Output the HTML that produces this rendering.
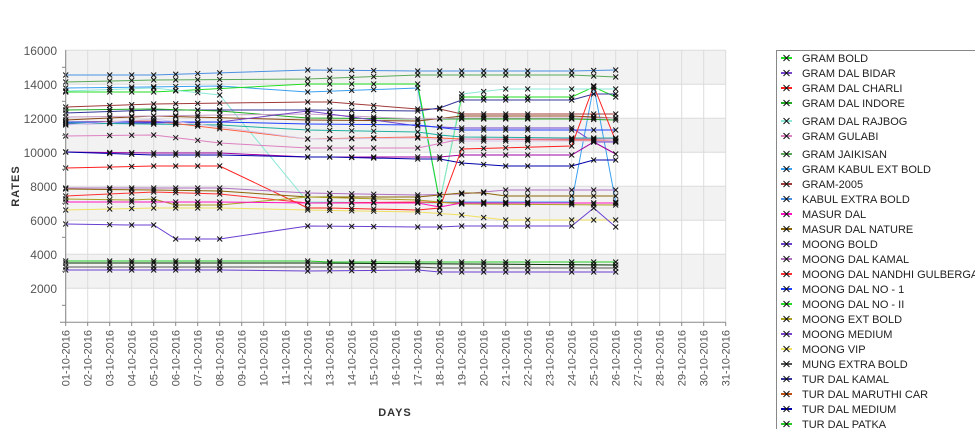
<!DOCTYPE html>
<html><head><meta charset="utf-8"><style>
body{margin:0;background:#fff;width:975px;height:429px;overflow:hidden;font-family:"Liberation Sans","DejaVu Sans",sans-serif}
</style></head><body>
<svg id="s" width="975" height="429" xmlns="http://www.w3.org/2000/svg" style="position:absolute;left:0;top:0">
<rect x="65.7" y="50" width="660" height="34" fill="#f2f2f2"/>
<rect x="65.7" y="118" width="660" height="34" fill="#f2f2f2"/>
<rect x="65.7" y="186" width="660" height="34" fill="#f2f2f2"/>
<rect x="65.7" y="254" width="660" height="34" fill="#f2f2f2"/>
<g id="grid" stroke="#dcdcdc" stroke-width="1"></g>
<g id="ser" fill="none" stroke-width="1"></g>
<g id="mk" stroke="#111" stroke-width="1"></g>
<line x1="65.7" y1="50" x2="65.7" y2="322.3" stroke="#888"/>
<line x1="60" y1="322.3" x2="725.7" y2="322.3" stroke="#888"/>
<g id="lab" fill="#555" font-size="11.5"></g>
<text x="19" y="186" font-size="11" font-weight="bold" fill="#333" transform="rotate(-90 19 186)" text-anchor="middle" letter-spacing="1">RATES</text>
<text x="395" y="416" font-size="11" font-weight="bold" fill="#333" text-anchor="middle" letter-spacing="1">DAYS</text>
<rect x="776.5" y="50.5" width="210" height="390" fill="#fff" stroke="#888"/>
<g id="leg" font-size="11" fill="#222"></g>
</svg>
<script>
var NS="http://www.w3.org/2000/svg";
function el(p,t,a,txt){var e=document.createElementNS(NS,t);for(var k in a)e.setAttribute(k,a[k]);if(txt)e.textContent=txt;document.getElementById(p).appendChild(e);return e;}
function X(d){return 65.7+(d-1)*22;}
function Y(v){return 322.3-v*0.017;}
for(var d=1;d<=31;d++){el("grid","line",{x1:X(d),y1:50,x2:X(d),y2:322.3});
 var dd=(d<10?"0":"")+d+"-10-2016";
 el("lab","text",{x:X(d)+4,y:330,transform:"rotate(-90 "+(X(d)+4)+" 330)","text-anchor":"end","font-size":"11"},dd);
 el("lab","line",{x1:X(d),y1:322.3,x2:X(d),y2:326,stroke:"#888"});}
for(var v=2000;v<=16000;v+=2000){el("grid","line",{x1:65.7,y1:Y(v),x2:725.7,y2:Y(v)});
 el("lab","text",{x:57,y:Y(v)+4.5,"text-anchor":"end","font-size":"12"},String(v));}
for(var v=1000;v<=15000;v+=2000)el("lab","line",{x1:62,y1:Y(v),x2:65.7,y2:Y(v),stroke:"#888"});
var days=[1,3,4,5,6,7,8,12,13,14,15,17,18,19,20,21,22,24,25,26];
var S=[
["#4a90e2",[[1,75],[5,75],[12,70],[17,71],[24,71],[26,70]]],
["#5aaa5a",[[1,82],[5,80],[12,79],[17,75],[24,75],[26,77]]],
["#3aa0f0",[[1,88],[8,86],[12,92],[17,88],[18,202],[24,202],[25,86],[26,202]]],
["#22dd22",[[1,92],[5,92],[12,84],[17,84],[18,202],[19,97],[24,97],[25,87],[26,97]]],
["#8ee8d8",[[1,91],[5,88],[8,95],[12,202],[13,202],[17,203],[18,203],[19,94],[21,89],[26,89]]],
["#a03a3a",[[1,107],[5,104],[12,102],[13,102],[17,109],[18,109],[19,114],[26,114]]],
["#333399",[[1,113],[5,110],[12,110],[17,111],[18,108],[19,100],[24,100],[25,94],[26,94]]],
["#22aa22",[[1,110],[5,109],[8,111],[12,118],[17,119],[24,119],[26,120]]],
["#8b4513",[[1,120],[5,116],[12,120],[17,121],[19,116],[24,116],[26,118]]],
["#c8a0c8",[[1,117],[8,115],[12,114],[17,119],[19,118],[26,118]]],
["#7744cc",[[1,124],[8,122],[12,111],[17,126],[19,128],[24,128],[25,142],[26,142]]],
["#20b0a0",[[1,123],[8,125],[12,130],[17,132],[18,135],[19,137],[24,138],[26,138]]],
["#ff6040",[[1,122],[5,121],[12,139],[17,137],[19,139],[24,140],[25,140],[26,141]]],
["#2040ff",[[1,122],[8,122],[12,124],[17,125],[19,130],[24,130],[26,130]]],
["#d4c4e8",[[1,125],[5,119],[8,127],[12,139],[13,139],[17,138],[19,141],[26,141]]],
["#dd80c0",[[1,136],[5,135],[8,143],[12,148],[17,148],[19,139],[24,139],[26,139]]],
["#a000a0",[[1,152],[5,153],[8,153],[12,157],[17,157],[18,157],[19,155],[24,155],[25,142],[26,154]]],
["#0000aa",[[1,152],[5,155],[8,155],[12,157],[13,157],[17,159],[18,159],[19,163],[21,166],[24,166],[25,160],[26,160]]],
["#ff2020",[[1,168],[5,166],[8,166],[12,208],[13,208],[17,210],[18,208],[19,149],[24,146],[25,86],[26,141]]],
["#b070c0",[[1,188],[5,188],[8,188],[12,193],[17,195],[19,194],[21,190],[26,190]]],
["#8b6508",[[1,189],[5,190],[8,191],[12,197],[17,197],[19,193],[20,193],[21,196],[26,196]]],
["#ff3030",[[1,196],[5,192],[8,194],[12,203],[17,202],[19,203],[26,203]]],
["#aaa020",[[1,199],[4,200],[5,199],[6,205],[8,205],[12,197],[17,200],[19,204],[26,205]]],
["#ff10c0",[[1,202],[8,202],[12,203],[17,203],[18,207],[19,203],[26,203]]],
["#f0e060",[[1,210],[5,208],[8,208],[12,210],[17,212],[19,215],[21,220],[26,220]]],
["#6a3fd0",[[1,224],[4,225],[5,225],[6,239],[8,239],[12,226],[17,227],[18,227],[19,226],[24,226],[25,208],[26,227]]],
["#22cc22",[[1,261],[12,261],[13,262],[26,262]]],
["#003300",[[1,263],[12,263],[26,265]]],
["#555555",[[1,267],[12,267],[17,267],[18,268],[26,268]]],
["#6a3fd0",[[1,270],[8,270],[12,271],[17,270],[18,272],[26,272]]]
];
function interp(pts,d){for(var i=0;i<pts.length-1;i++){var a=pts[i],b=pts[i+1];if(d>=a[0]&&d<=b[0])return a[1]+(b[1]-a[1])*(d-a[0])/(b[0]-a[0]);}return null;}
S.forEach(function(s){var p=s[1].map(function(q){return X(q[0])+","+q[1]}).join(" ");
 el("ser","polyline",{points:p,stroke:s[0]});
 days.forEach(function(d){var y=interp(s[1],d);if(y==null)return;var x=X(d);
  el("mk","path",{d:"M"+(x-2.5)+" "+(y-2.5)+"L"+(x+2.5)+" "+(y+2.5)+"M"+(x+2.5)+" "+(y-2.5)+"L"+(x-2.5)+" "+(y+2.5)});});});
var L=[["GRAM BOLD","#22dd22",58],["GRAM DAL BIDAR","#7744cc",73],["GRAM DAL CHARLI","#ff2020",88],["GRAM DAL INDORE","#22aa22",103],["GRAM DAL RAJBOG","#8ee8d8",121],["GRAM GULABI","#dd80c0",136],["GRAM JAIKISAN","#5aaa5a",154],["GRAM KABUL EXT BOLD","#3aa0f0",169],["GRAM-2005","#a03a3a",184],["KABUL EXTRA BOLD","#4a90e2",199],["MASUR DAL","#ff10c0",214],["MASUR DAL NATURE","#8b6508",229],["MOONG BOLD","#6a3fd0",244],["MOONG DAL KAMAL","#b070c0",259],["MOONG DAL NANDHI GULBERGA","#ff3030",274],["MOONG DAL NO - 1","#2040ff",289],["MOONG DAL NO - II","#22dd22",304],["MOONG EXT BOLD","#aaa020",319],["MOONG MEDIUM","#7744cc",334],["MOONG VIP","#f0e060",349],["MUNG EXTRA BOLD","#555555",364],["TUR DAL KAMAL","#333399",379],["TUR DAL MARUTHI CAR","#c05010",394],["TUR DAL MEDIUM","#0000aa",409],["TUR DAL PATKA","#22cc22",424]];
L.forEach(function(l){var y=l[2];
 el("leg","line",{x1:781,y1:y,x2:792,y2:y,stroke:l[1],"stroke-width":2});
 el("leg","path",{d:"M"+783.5+" "+(y-3)+"L"+789.5+" "+(y+3)+"M"+789.5+" "+(y-3)+"L"+783.5+" "+(y+3),stroke:"#111"});
 el("leg","text",{x:802,y:y+4},l[0]);});
</script>
</body></html>
